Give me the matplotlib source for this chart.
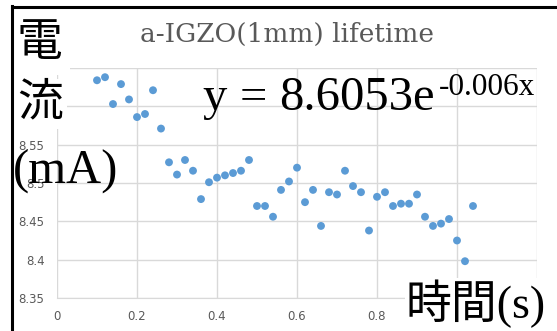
import matplotlib
matplotlib.use("Agg")
import matplotlib.pyplot as plt
from matplotlib.lines import Line2D

# ---- data ----
time_s = [0.10, 0.12, 0.14, 0.16, 0.18, 0.20, 0.22, 0.24, 0.26, 0.28,
          0.30, 0.32, 0.34, 0.36, 0.38, 0.40, 0.42, 0.44, 0.46, 0.48,
          0.50, 0.52, 0.54, 0.56, 0.58, 0.60, 0.62, 0.64, 0.66, 0.68,
          0.70, 0.72, 0.74, 0.76, 0.78, 0.80, 0.82, 0.84, 0.86, 0.88,
          0.90, 0.92, 0.94, 0.96, 0.98, 1.00, 1.02, 1.04]
current_mA = [8.634, 8.638, 8.603, 8.629, 8.609, 8.586, 8.590, 8.621, 8.571, 8.527,
              8.511, 8.530, 8.516, 8.479, 8.501, 8.507, 8.510, 8.513, 8.516, 8.530,
              8.470, 8.470, 8.456, 8.491, 8.502, 8.520, 8.475, 8.491, 8.444, 8.488,
              8.485, 8.516, 8.496, 8.488, 8.438, 8.482, 8.488, 8.470, 8.473, 8.473,
              8.485, 8.456, 8.444, 8.447, 8.453, 8.425, 8.398, 8.470]
x_ticks = [0, 0.2, 0.4, 0.6, 0.8, 1.0, 1.2]
x_tick_labels = ["0", "0.2", "0.4", "0.6", "0.8", "1", "1.2"]
y_ticks = [8.35, 8.4, 8.45, 8.5, 8.55, 8.6, 8.65]
y_tick_labels = ["8.35", "8.4", "8.45", "8.5", "8.55", "8.6", "8.65"]
title = "a-IGZO(1mm) lifetime"
eq_y = "y"
eq_eq = "="
eq_main = "8.6053e"
eq_sup = "-0.006x"

W, H = 557, 331
fig = plt.figure(figsize=(W / 100, H / 100), dpi=100)
fig.patch.set_facecolor("white")

def fx(px):
    return px / W

def fy(py):
    return 1 - py / H

ax = fig.add_axes([fx(57), fy(298), fx(537) - fx(57), fy(68) - fy(298)])
ax.scatter(time_s, current_mA, s=32, color="#5B9BD5", edgecolors="none", zorder=3)
ax.set_xlim(0, 1.2)
ax.set_ylim(8.35, 8.65)
ax.set_xticks(x_ticks)
ax.set_xticklabels(x_tick_labels)
ax.set_yticks(y_ticks)
ax.set_yticklabels(y_tick_labels)
ax.grid(True, color="#D9D9D9", linewidth=1.0)
ax.set_axisbelow(True)
for s in ax.spines.values():
    s.set_visible(False)
ax.spines["bottom"].set_visible(True)
ax.spines["bottom"].set_color("#D9D9D9")
ax.tick_params(length=0, labelsize=8.5, colors="#595959")
ax.tick_params(axis="x", pad=9)
ax.tick_params(axis="y", pad=9)
for lab in ax.get_xticklabels() + ax.get_yticklabels():
    lab.set_family("DejaVu Sans")

# title
fig.text(fx(287), fy(42), title, ha="center", va="baseline",
         fontsize=19, color="#595959", family="DejaVu Serif")

# equation
eqf = "Liberation Serif"
fig.text(fx(202), fy(110), eq_y, ha="left", va="baseline",
         fontsize=35, color="black", family=eqf)
fig.text(fx(253), fy(110), eq_eq, ha="center", va="baseline",
         fontsize=35, color="black", family=eqf)
fig.text(fx(279), fy(110), eq_main, ha="left", va="baseline",
         fontsize=35, color="black", family=eqf)
fig.text(fx(439), fy(95), eq_sup, ha="left", va="baseline",
         fontsize=22.5, color="black", family=eqf)

big_family = ["Liberation Serif", "Noto Sans CJK JP"]
# y label stacked
fig.text(fx(39), fy(45), "電", ha="center", va="center", fontsize=33,
         family=big_family, color="black",
         bbox=dict(facecolor="white", edgecolor="none", pad=6), zorder=10)
fig.text(fx(40), fy(104), "流", ha="center", va="center", fontsize=33,
         family=big_family, color="black",
         bbox=dict(facecolor="white", edgecolor="none", pad=3), zorder=10)
fig.text(fx(13), fy(172), "(mA)", ha="left", va="center", fontsize=35,
         family=big_family, color="black", zorder=10)
# x label
fig.text(fx(546), fy(328), "時間(s)", ha="right", va="bottom", fontsize=33,
         family=big_family, color="black",
         bbox=dict(facecolor="white", edgecolor="none", pad=1), zorder=10)

# border lines
fig.add_artist(Line2D([fx(12), fx(12)], [0, fy(6)], color="black", linewidth=2.2,
                      transform=fig.transFigure, zorder=20))
fig.add_artist(Line2D([fx(12), 1], [fy(7), fy(7)], color="black", linewidth=2.2,
                      transform=fig.transFigure, zorder=20))

fig.savefig("out.png", dpi=100, facecolor="white")
